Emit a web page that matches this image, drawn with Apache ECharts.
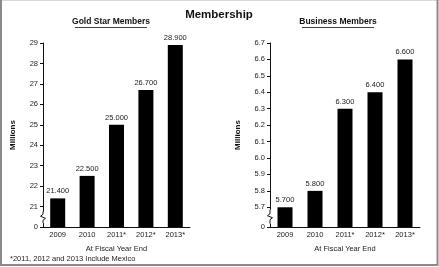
<!DOCTYPE html>
<html>
<head>
<meta charset="utf-8">
<style>
  html, body { margin: 0; padding: 0; background: #fff; }
  #chart { width: 439px; height: 267px; }
</style>
<script src="https://cdn.jsdelivr.net/npm/echarts@6/dist/echarts.min.js"></script>
</head>
<body>
<div id="chart"></div>
<script>
// Fiscal year categories (starred years include Mexico)
const years = ['2009', '2010', '2011*', '2012*', '2013*'];

// Gold Star members, millions
const goldStar = [21.4, 22.5, 25.0, 26.7, 28.9];
// Business members, millions
const business = [5.7, 5.8, 6.3, 6.4, 6.6];

// Broken value axes: the lowest position is labelled "0"
const goldMin = 20, goldMax = 29;
const goldTicks = [20, 21, 22, 23, 24, 25, 26, 27, 28, 29];
const bizMin = 5.58, bizMax = 6.7;
const bizTicks = [5.58, 5.7, 5.8, 5.9, 6.0, 6.1, 6.2, 6.3, 6.4, 6.5, 6.6, 6.7];

const FONT = '"Liberation Sans", Arial, Helvetica, sans-serif';
const INK = '#111';
const TXT = '#222';

const chart = echarts.init(document.getElementById('chart'), null, { renderer: 'canvas' });

function valueAxis(gridIndex, min, max, ticks, fmt) {
  return {
    type: 'value', gridIndex, min, max,
    axisLine: { show: true, lineStyle: { color: INK, width: 1 } },
    axisTick: { show: true, length: 3, inside: false, customValues: ticks, lineStyle: { color: INK } },
    axisLabel: { customValues: ticks, fontFamily: FONT, fontSize: 7.5, color: TXT, margin: 5,
      formatter: v => (Math.abs(v - min) < 1e-6 ? '0' : fmt(v)) },
    splitLine: { show: false },
    name: 'Millions', nameLocation: 'middle', nameGap: 0,
    nameTextStyle: { fontFamily: FONT, fontWeight: 'bold', fontSize: 8, color: INK }
  };
}

function catAxis(gridIndex) {
  return {
    type: 'category', gridIndex, data: years,
    axisLine: { show: true, lineStyle: { color: INK, width: 1 } },
    axisTick: { show: false },
    axisLabel: { fontFamily: FONT, fontSize: 7.5, color: TXT, margin: 4 },
    name: 'At Fiscal Year End', nameLocation: 'middle', nameGap: 18,
    nameTextStyle: { fontFamily: FONT, fontSize: 7.5, color: TXT }
  };
}

function barSeries(idx, data) {
  return {
    type: 'bar', xAxisIndex: idx, yAxisIndex: idx, data,
    barWidth: 15,
    itemStyle: { color: '#000' },
    label: { show: true, position: 'top', distance: 3, fontFamily: FONT, fontSize: 7.5, color: TXT,
      formatter: p => p.value.toFixed(3) }
  };
}

const yGold = valueAxis(0, goldMin, goldMax, goldTicks, v => String(Math.round(v)));
yGold.nameGap = 26;
const yBiz = valueAxis(1, bizMin, bizMax, bizTicks, v => v.toFixed(1));
yBiz.nameGap = 28;

chart.setOption({
  animation: false,
  backgroundColor: '#fff',
  grid: [
    { left: 43, right: 249, top: 43, bottom: 40 },
    { left: 270, right: 19, top: 43, bottom: 40 }
  ],
  xAxis: [catAxis(0), catAxis(1)],
  yAxis: [yGold, yBiz],
  series: [barSeries(0, goldStar), barSeries(1, business)]
});

// Zigzag axis breaks plus titles, placed from the axes' own pixel mapping
const g0 = chart.getModel().getComponent('grid', 0).coordinateSystem.getRect();
const g1 = chart.getModel().getComponent('grid', 1).coordinateSystem.getRect();

function zigzag(rect, yTop, yBot) {
  const x = rect.x;
  const mid = (yTop + yBot) / 2;
  return [
    { type: 'rect', shape: { x: x - 1, y: yTop, width: 2, height: yBot - yTop }, style: { fill: '#fff' }, z: 100 },
    { type: 'polyline', z: 101,
      shape: { points: [[x, yTop], [x, mid - 3], [x - 2.5, mid - 1], [x + 2.5, mid + 1], [x, mid + 3], [x, yBot]] },
      style: { stroke: INK, lineWidth: 1, fill: null } }
  ];
}

const goldBreakTop = chart.convertToPixel({ yAxisIndex: 0 }, 20.75);
const goldBreakBot = chart.convertToPixel({ yAxisIndex: 0 }, 20.2);
const bizBreakTop = chart.convertToPixel({ yAxisIndex: 1 }, 5.685);
const bizBreakBot = chart.convertToPixel({ yAxisIndex: 1 }, 5.6);

function subTitle(text, cx, y) {
  return [
    { type: 'text', z: 100, style: { text, x: cx, y, align: 'center', verticalAlign: 'middle',
        font: 'bold 8.5px ' + FONT, fill: INK } },
    { type: 'line', z: 100, shape: { x1: cx - 36, y1: y + 5.5, x2: cx + 36, y2: y + 5.5 },
      style: { stroke: INK, lineWidth: 0.8 } }
  ];
}

chart.setOption({
  graphic: [
    { type: 'text', z: 100, style: { text: 'Membership', x: 219, y: 15, align: 'center', verticalAlign: 'middle',
        font: 'bold 11.5px ' + FONT, fill: INK } },
    ...subTitle('Gold Star Members', 111, 22),
    ...subTitle('Business Members', 338, 22),
    { type: 'text', z: 100, style: { text: '*2011, 2012 and 2013 Include Mexico', x: 10, y: 259,
        align: 'left', verticalAlign: 'middle', font: '7.5px ' + FONT, fill: TXT } },
    ...zigzag(g0, goldBreakTop, goldBreakBot),
    ...zigzag(g1, bizBreakTop, bizBreakBot),
    // frame around the figure: light top edge, darker sides and bottom
    { type: 'line', z: 200, shape: { x1: 0, y1: 0.5, x2: 439, y2: 0.5 }, style: { stroke: '#d8d8d8', lineWidth: 1 } },
    { type: 'polyline', z: 200, shape: { points: [[1, 0], [1, 265], [437.5, 265], [437.5, 0]] },
      style: { stroke: '#8a8a8a', lineWidth: 2, fill: null } }
  ]
});
</script>
</body>
</html>
